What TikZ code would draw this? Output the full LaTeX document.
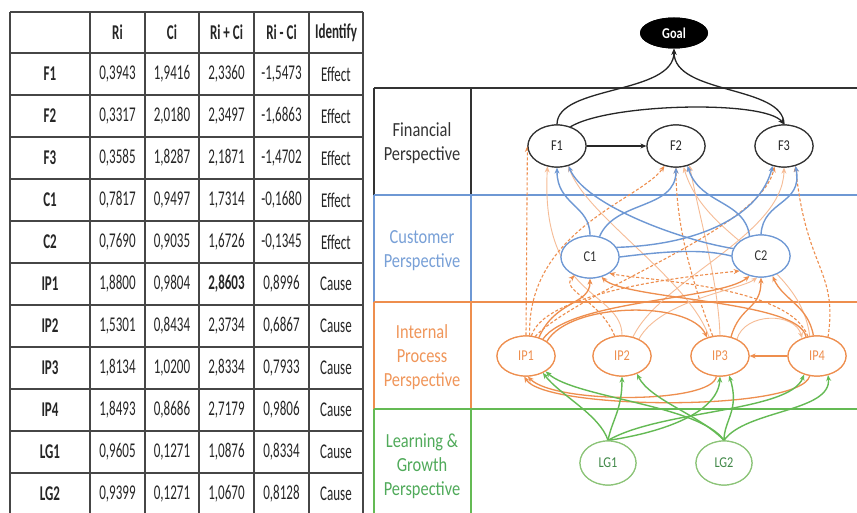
\documentclass[tikz,border=0pt]{standalone}
\usepackage{fontspec}
\setmainfont{Carlito}
\newfontfamily\tabfont[FakeStretch=0.62]{Carlito}
\newfontfamily\dfont[FakeStretch=0.82]{Carlito}
\usetikzlibrary{arrows.meta,shapes.geometric}
\definecolor{cblue}{RGB}{110,152,212}
\definecolor{cbluet}{RGB}{120,160,215}
\definecolor{corange}{RGB}{238,142,78}
\definecolor{corangel}{RGB}{246,188,150}
\definecolor{corangt}{RGB}{240,150,90}
\definecolor{cgreen}{RGB}{100,186,84}
\definecolor{cgreenl}{RGB}{140,196,120}
\definecolor{cgreent}{RGB}{80,170,90}
\definecolor{tline}{RGB}{70,70,70}
\tikzset{
  tc/.style={font=\tabfont\fontsize{21}{24}\selectfont, text=black!85, inner sep=0pt},
  tb/.style={font=\tabfont\bfseries\fontsize{21}{24}\selectfont, text=black!85, inner sep=0pt},
  plab/.style={align=center, font=\dfont\fontsize{20}{24}\selectfont, inner sep=0pt},
  ell/.style={ellipse, draw, fill=white, minimum width=58pt, minimum height=42pt, inner sep=0pt, line width=1.2pt, font=\dfont\fontsize{15}{17}\selectfont},
  fnode/.style={ell, draw=black!80, text=black!85},
  cnode/.style={ell, draw=cblue, text=black!80},
  inode/.style={ell, draw=corange, text=corange, minimum height=40pt},
  lnode/.style={ell, draw=cgreenl, text=cgreent!80!black, minimum width=56pt, minimum height=44pt},
  arr/.style={-{Stealth[length=6pt,width=5pt]}},
  blk/.style={arr, draw=black!85, line width=1.3pt},
  bl/.style={arr, draw=cblue, line width=1.4pt},
  blp/.style={draw=cblue, line width=1.4pt},
  orS/.style={arr, draw=corange, line width=1.3pt},
  orD/.style={arr, draw=corange, line width=1.1pt, dash pattern=on 3pt off 2pt},
  orL/.style={arr, draw=corangel, line width=0.9pt},
  gr/.style={arr, draw=cgreen, line width=1.4pt},
}
\newcommand{\trow}[8]{%
  \node[tb] (t#2) at (50,#1) {#2};
  \node[tc] (t#2a) at (117.5,#1) {#3};
  \node[tc] (t#2b) at (172,#1) {#4};
  \node[tc] (t#2c) at (226.5,#1) {#5};
  \node[tc] (t#2d) at (281.5,#1) {#6};
  \node[tc] (t#2e) at (336,#1) {#7};
}
\begin{document}
\begin{tikzpicture}[x=1pt,y=-1pt]
\useasboundingbox (0,0) rectangle (857,513);
\fill[white] (0,0) rectangle (857,513);
% ---------------- table ----------------
\foreach \yy in {12,53,95,137,179,221,263,305,347,389,431,473}
  \draw[tline, line width=1.4pt] (10,\yy) -- (363,\yy);
\foreach \xx in {10,90,145,199,254,309,363}
  \draw[tline, line width=1.4pt] (\xx,12) -- (\xx,513);
\node[tb] (hRi) at (117.5,32.5) {Ri};
\node[tb] (hCi) at (172,32.5) {Ci};
\node[tb] (hRpC) at (226.5,32.5) {Ri + Ci};
\node[tb] (hRmC) at (281.5,32.5) {Ri - Ci};
\node[tb] (hId) at (336,32.5) {Identify};
\trow{74}{F1}{0,3943}{1,9416}{2,3360}{-1,5473}{Effect}{}
\trow{116}{F2}{0,3317}{2,0180}{2,3497}{-1,6863}{Effect}{}
\trow{158}{F3}{0,3585}{1,8287}{2,1871}{-1,4702}{Effect}{}
\trow{200}{C1}{0,7817}{0,9497}{1,7314}{-0,1680}{Effect}{}
\trow{242}{C2}{0,7690}{0,9035}{1,6726}{-0,1345}{Effect}{}
\trow{284}{IP1}{1,8800}{0,9804}{\bfseries 2,8603}{0,8996}{Cause}{}
\trow{326}{IP2}{1,5301}{0,8434}{2,3734}{0,6867}{Cause}{}
\trow{368}{IP3}{1,8134}{1,0200}{2,8334}{0,7933}{Cause}{}
\trow{410}{IP4}{1,8493}{0,8686}{2,7179}{0,9806}{Cause}{}
\trow{452}{LG1}{0,9605}{0,1271}{1,0876}{0,8334}{Cause}{}
\trow{494}{LG2}{0,9399}{0,1271}{1,0670}{0,8128}{Cause}{}
% ---------------- perspective frame ----------------
\draw[black!80, line width=1.3pt] (374,88) -- (857,88);
\draw[black!80, line width=1.3pt] (374,88) -- (374,195) (471,88) -- (471,195);
\draw[cblue, line width=1.3pt] (374,195) -- (374,302) (471,195) -- (471,302);
\draw[corange, line width=1.3pt] (374,302) -- (374,409) (471,302) -- (471,409);
\draw[cgreen, line width=1.3pt] (374,409) -- (374,513) (471,409) -- (471,513);
\draw[cblue, line width=1.8pt] (374,195) -- (857,195);
\draw[corange, line width=1.8pt] (374,302) -- (857,302);
\draw[cgreen, line width=1.8pt] (374,409) -- (857,409);
\node[plab, text=black!80] (pF) at (422,143) {Financial\\Perspective};
\node[plab, text=cbluet] (pC) at (422,251) {Customer\\Perspective};
\node[plab, text=corangt] (pI) at (422,357) {Internal\\Process\\Perspective};
\node[plab, text=cgreent] (pL) at (422,466) {Learning \&\\Growth\\Perspective};
% ---------------- nodes (placed first, drawn over later) ----------------
\path node[ellipse, fill=black, minimum width=68pt, minimum height=31pt, inner sep=0pt, text=white, font=\dfont\bfseries\fontsize{15}{17}\selectfont] (Goal) at (674,33) {Goal}
  node[fnode] (F1) at (557,146) {F1}
  node[fnode] (F2) at (676,146) {F2}
  node[fnode] (F3) at (784,146) {F3}
  node[cnode] (C1) at (590,257) {C1}
  node[cnode] (C2) at (761,256) {C2}
  node[inode] (IP1) at (526,356) {IP1}
  node[inode] (IP2) at (622,356) {IP2}
  node[inode] (IP3) at (720,356) {IP3}
  node[inode] (IP4) at (817,356) {IP4}
  node[lnode] (LG1) at (608,463) {LG1}
  node[lnode] (LG2) at (724,463) {LG2};
% ---------------- light orange edges ----------------
\draw[orL] (IP2.north) .. controls (622,290) and (540,300) .. (F1.-115);
\draw[orL] (IP3.120) .. controls (690,280) and (585,215) .. (F1.-60);
\draw[orL] (IP3.north) .. controls (718,280) and (700,220) .. (F2.-55);
\draw[orL] (IP4.110) .. controls (800,260) and (705,240) .. (F2.-70);
\draw[orL] (IP2.60) .. controls (660,280) and (783,235) .. (F3.south);
\draw[orL] (IP3.45) .. controls (745,312) and (795,312) .. (IP4.130);
\draw[orL] (IP2.45) .. controls (660,300) and (740,290) .. (C2.-100);
% ---------------- orange dashed edges ----------------
\draw[orD] (IP1.north) -- (F1.west);
\draw[orD] (IP1.80) .. controls (527,230) and (640,200) .. (F2.-120);
\draw[orD] (IP1.65) .. controls (580,290) and (760,230) .. (F3.-115);
\draw[orD] (IP3.110) .. controls (695,290) and (676,230) .. (F2.south);
\draw[orD] (IP4.60) .. controls (838,270) and (806,270) .. (F3.-60);
\draw[orD] (IP1.75) .. controls (545,290) and (700,275) .. (C2.-145);
\draw[orD] (IP4.115) .. controls (790,285) and (640,280) .. (C1.-40);
\draw[orD] (IP2.110) .. controls (600,300) and (560,290) .. (C1.-130);
% ---------------- orange solid edges ----------------
\draw[orS] (IP1.55) .. controls (555,300) and (590,305) .. (C1.south);
\draw[orS] (IP1.45) .. controls (570,300) and (720,300) .. (C2.-120);
\draw[orS] (IP4.120) .. controls (800,300) and (625,300) .. (C1.-60);
\draw[orS] (IP3.60) .. controls (740,305) and (761,310) .. (C2.south);
\draw[orS] (IP4.100) .. controls (808,305) and (783,300) .. (C2.-60);
\draw[orS] (IP1.35) .. controls (570,302) and (690,300) .. (IP3.125);
\draw[orS] (IP4.west) -- (IP3.east);
\draw[orS] (IP4.-110) .. controls (800,412) and (545,410) .. (IP1.-95);
\draw[orS] (IP3.-100) .. controls (712,404) and (555,404) .. (IP1.-85);
% ---------------- blue edges ----------------
\draw[bl] (C1.north) .. controls (590,205) and (557,205) .. (F1.south);
\draw[bl] (C1.65) .. controls (615,200) and (676,210) .. (F2.south);
\draw[bl] (C1.20) .. controls (700,245) and (760,215) .. (F3.-120);
\draw[blp] (C1.east) .. controls (660,252) and (700,248) .. (C2.west);
\draw[bl] (C2.165) .. controls (680,240) and (585,205) .. (F1.-60);
\draw[bl] (C2.120) .. controls (745,200) and (700,205) .. (F2.-60);
\draw[bl] (C2.north) .. controls (763,200) and (803,205) .. (F3.-60);
% ---------------- green edges ----------------
\draw[gr] (LG1.north) .. controls (600,415) and (560,395) .. (IP1.-45);
\draw[gr] (LG1.north) .. controls (612,420) and (622,410) .. (IP2.south);
\draw[gr] (LG1.north) .. controls (665,432) and (718,412) .. (IP3.south);
\draw[gr] (LG1.north) .. controls (660,410) and (790,412) .. (IP4.-125);
\draw[gr] (LG2.north) .. controls (700,405) and (575,398) .. (IP1.-38);
\draw[gr] (LG2.north) .. controls (700,415) and (650,400) .. (IP2.-50);
\draw[gr] (LG2.north) .. controls (724,420) and (740,410) .. (IP3.-65);
\draw[gr] (LG2.north) .. controls (745,410) and (832,412) .. (IP4.-60);
% ---------------- black edges ----------------
\draw[blk] (F1.north) .. controls (557,85) and (674,95) .. (Goal.south);
\draw[blk] (F3.north) .. controls (784,85) and (674,95) .. (Goal.south);
\draw[blk] (F1.55) .. controls (610,103) and (765,100) .. (F3.north);
\draw[blk] (F1.east) -- (F2.west);
% ---------------- redraw nodes on top ----------------
\node[ellipse, fill=black, minimum width=68pt, minimum height=31pt, inner sep=0pt, text=white, font=\dfont\bfseries\fontsize{15}{17}\selectfont] (Goalb) at (674,33) {Goal};
\node[fnode] (F1b) at (557,146) {F1};
\node[fnode] (F2b) at (676,146) {F2};
\node[fnode] (F3b) at (784,146) {F3};
\node[cnode] (C1b) at (590,257) {C1};
\node[cnode] (C2b) at (761,256) {C2};
\node[inode] (IP1b) at (526,356) {IP1};
\node[inode] (IP2b) at (622,356) {IP2};
\node[inode] (IP3b) at (720,356) {IP3};
\node[inode] (IP4b) at (817,356) {IP4};
\node[lnode] (LG1b) at (608,463) {LG1};
\node[lnode] (LG2b) at (724,463) {LG2};
\end{tikzpicture}
\end{document}
